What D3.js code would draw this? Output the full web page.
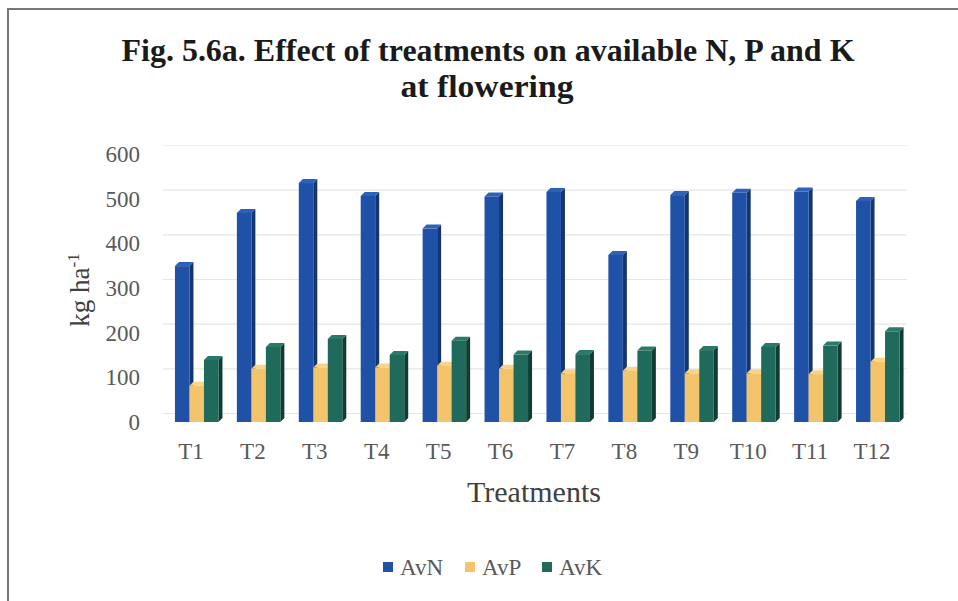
<!DOCTYPE html>
<html>
<head>
<meta charset="utf-8">
<script src="https://cdn.jsdelivr.net/npm/d3@7/dist/d3.min.js"></script>
<style>
  html, body { margin: 0; padding: 0; background: #fff; }
  svg { display: block; font-family: "Liberation Serif", "Times New Roman", serif; }
</style>
</head>
<body>
<div id="chart"></div>
<script>
// data (kg/ha)
var treatments = ["T1", "T2", "T3", "T4", "T5", "T6", "T7", "T8", "T9", "T10", "T11", "T12"];
var seriesNames = ["AvN", "AvP", "AvK"];
var avN = [349, 468, 535, 506, 433, 505, 515, 374, 508, 513, 516, 495];
var avP = [81, 119, 122, 122, 126, 119, 109, 115, 109, 109, 107, 135];
var avK = [139, 168, 186, 150, 182, 151, 152, 160, 161, 168, 171, 203];
var yTicks = [0, 100, 200, 300, 400, 500, 600];

var W = 958, H = 601;
var dx = 4, dy = 4;          // bar depth
var wallDy = 8.5;            // back wall shift for gridlines

var colors = {
  AvN: { front: "#1f52a6", side: "#143670", top: "#2c62b8" },
  AvP: { front: "#f3c46c", side: "#c7993f", top: "#f8d48a" },
  AvK: { front: "#1f6a5a", side: "#0f3d34", top: "#2a7a69" }
};

var values = { AvN: avN, AvP: avP, AvK: avK };

var svg = d3.select("#chart").append("svg")
  .attr("width", W)
  .attr("height", H);

// frame (left and top edge only visible)
svg.append("path")
  .attr("d", "M8,601 L8,9 L958,9")
  .attr("fill", "none")
  .attr("stroke", "#777")
  .attr("stroke-width", 2);

// title
var title = svg.append("g").attr("font-weight", "bold").attr("fill", "#1a1a1a")
  .attr("font-size", 31).attr("text-anchor", "middle");
title.append("text").attr("x", 488).attr("y", 61)
  .text("Fig. 5.6a. Effect of treatments on available N, P and K")
  .attr("textLength", 733).attr("lengthAdjust", "spacingAndGlyphs");
title.append("text").attr("x", 487).attr("y", 97)
  .text("at flowering")
  .attr("textLength", 173).attr("lengthAdjust", "spacingAndGlyphs");

var y = d3.scaleLinear().domain([0, 600]).range([422, 154]);

var x = d3.scaleBand().domain(treatments).range([160, 903]).padding(0);
var xSub = d3.scaleBand().domain(seriesNames).range([-16, 27.5]).padding(0);

// back wall gridlines
svg.append("g")
  .selectAll("line")
  .data(yTicks)
  .enter()
  .append("line")
  .attr("x1", 163)
  .attr("x2", 907)
  .attr("y1", function(d) { return y(d) - wallDy; })
  .attr("y2", function(d) { return y(d) - wallDy; })
  .attr("stroke", function(d) { return d === 600 ? "#f0f0f0" : "#e6e6e6"; })
  .attr("stroke-width", 1.2);

// y axis
var yAxis = svg.append("g")
  .attr("transform", "translate(148,0)")
  .call(d3.axisLeft(y).tickValues(yTicks).tickSize(0).tickPadding(8));
yAxis.select(".domain").remove();
yAxis.selectAll("text")
  .attr("font-family", "Liberation Serif, serif")
  .attr("font-size", 23)
  .attr("fill", "#595959");

// x axis
var xAxis = svg.append("g")
  .attr("transform", "translate(0,428)")
  .call(d3.axisBottom(x).tickSize(0).tickPadding(15));
xAxis.select(".domain").remove();
xAxis.selectAll("text")
  .attr("font-family", "Liberation Serif, serif")
  .attr("font-size", 23)
  .attr("fill", "#595959");

// 3D-ish bars
var bars = [];
treatments.forEach(function(t, i) {
  seriesNames.forEach(function(s) {
    bars.push({ t: t, s: s, v: values[s][i] });
  });
});

var w = xSub.bandwidth();
var y0 = y(0);
var g = svg.append("g");

var bar = g.selectAll("g.bar")
  .data(bars)
  .enter()
  .append("g")
  .attr("class", "bar");

bar.append("path") // side face
  .attr("fill", function(d) { return colors[d.s].side; })
  .attr("d", function(d) {
    var bx = x(d.t) + x.bandwidth() / 2 + xSub(d.s), by = y(d.v);
    return "M" + (bx + w) + "," + by + "L" + (bx + w + dx) + "," + (by - dy) +
      "L" + (bx + w + dx) + "," + (y0 - dy) + "L" + (bx + w) + "," + y0 + "Z";
  });

bar.append("path") // top face
  .attr("fill", function(d) { return colors[d.s].top; })
  .attr("d", function(d) {
    var bx = x(d.t) + x.bandwidth() / 2 + xSub(d.s), by = y(d.v);
    return "M" + bx + "," + by + "L" + (bx + dx) + "," + (by - dy) +
      "L" + (bx + w + dx) + "," + (by - dy) + "L" + (bx + w) + "," + by + "Z";
  });

bar.append("rect") // front face
  .attr("fill", function(d) { return colors[d.s].front; })
  .attr("x", function(d) { return x(d.t) + x.bandwidth() / 2 + xSub(d.s); })
  .attr("y", function(d) { return y(d.v); })
  .attr("width", w)
  .attr("height", function(d) { return y0 - y(d.v); });

// axis titles
svg.append("text")
  .attr("x", 534)
  .attr("y", 502)
  .attr("text-anchor", "middle")
  .attr("font-size", 30)
  .attr("fill", "#404040")
  .text("Treatments");

var yt = svg.append("text")
  .attr("transform", "translate(89,290) rotate(-90)")
  .attr("text-anchor", "middle")
  .attr("font-size", 27)
  .attr("fill", "#404040");
yt.append("tspan").text("kg ha");
yt.append("tspan").attr("dy", -10).attr("font-size", 17).text("-1");

// legend
var legendX = [383, 465, 542];
var legend = svg.append("g")
  .selectAll("g")
  .data(seriesNames)
  .enter()
  .append("g")
  .attr("transform", function(d, i) { return "translate(" + legendX[i] + ",562)"; });
legend.append("rect")
  .attr("width", 10)
  .attr("height", 10)
  .attr("fill", function(d) { return colors[d].front; });
legend.append("text")
  .attr("x", 17)
  .attr("y", 13)
  .attr("font-size", 23)
  .attr("fill", "#595959")
  .text(function(d) { return d; });
</script>
</body>
</html>
